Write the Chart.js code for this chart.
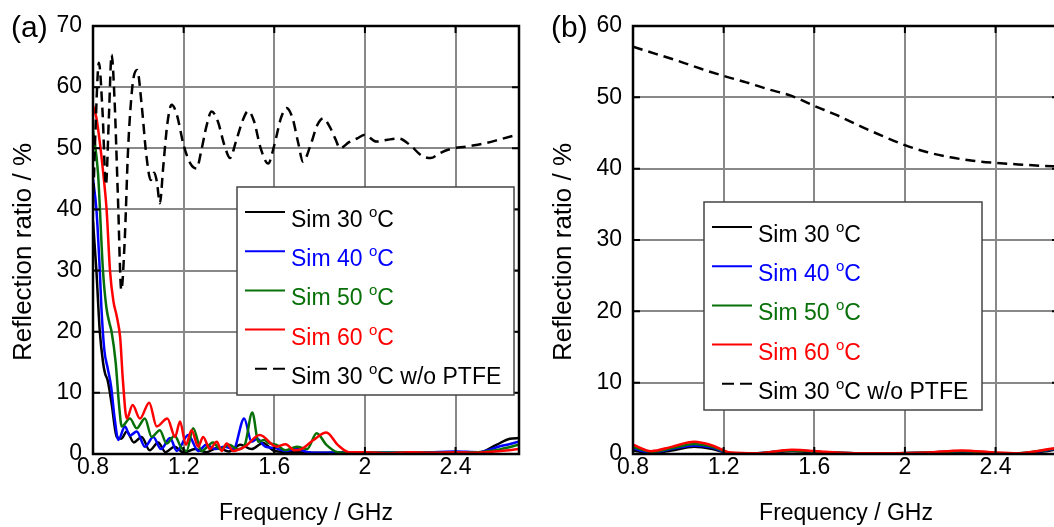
<!DOCTYPE html>
<html>
<head>
<meta charset="utf-8">
<script src="https://cdn.jsdelivr.net/npm/chart.js@4/dist/chart.umd.min.js"></script>
<style>
  html, body { margin: 0; padding: 0; background: #fff; overflow: hidden; }
  body { width: 1054px; height: 527px; position: relative; }
  canvas { position: absolute; top: 0; }
  #chartA { left: 0; }
  #chartB { left: 540px; }
</style>
</head>
<body>
<canvas id="chartA" width="540" height="527"></canvas>
<canvas id="chartB" width="540" height="527"></canvas>
<script>
// ---- panel (a): frequency (GHz) / reflection ratio (%) ----
const fA_dash = [0.8, 0.81, 0.826, 0.842, 0.857, 0.87, 0.882, 0.895, 0.91, 0.925, 0.94, 0.955, 0.975, 0.995, 1.015, 1.035, 1.055, 1.07, 1.082, 1.095, 1.11, 1.128, 1.147, 1.17, 1.2, 1.23, 1.257, 1.28, 1.3, 1.323, 1.35, 1.38, 1.405, 1.43, 1.46, 1.485, 1.51, 1.54, 1.573, 1.6, 1.63, 1.654, 1.68, 1.705, 1.727, 1.76, 1.79, 1.816, 1.845, 1.87, 1.89, 1.93, 1.965, 2.0, 2.05, 2.1, 2.15, 2.2, 2.25, 2.29, 2.33, 2.37, 2.45, 2.54, 2.6, 2.68];
const rA_dash = [40, 52, 64, 56, 44, 55, 65.3, 58, 42, 26.8, 35, 50, 60.5, 62.8, 57, 49, 44.8, 46, 44.5, 41, 47, 54, 57.1, 55.5, 50.5, 47.5, 46.7, 50, 53.5, 56, 54.5, 50.5, 48.4, 51, 54.5, 56.1, 54.5, 50, 47.5, 50.5, 55, 56.6, 55, 51, 47.8, 50.5, 53.8, 54.9, 53.5, 51.5, 50, 51, 51.6, 52.2, 51.1, 51.4, 51.6, 50.5, 48.8, 48.4, 49.2, 49.8, 50.3, 50.9, 51.5, 52.3];

const fA_60 = [0.8, 0.815, 0.83, 0.845, 0.86, 0.875, 0.89, 0.905, 0.92, 0.932, 0.949, 0.975, 1.007, 1.048, 1.081, 1.128, 1.162, 1.184, 1.21, 1.235, 1.264, 1.286, 1.316, 1.346, 1.368, 1.39, 1.419, 1.47, 1.536, 1.61, 1.65, 1.69, 1.72, 1.77, 1.83, 1.88, 1.93, 2.0, 2.1, 2.2, 2.3, 2.4, 2.5, 2.6, 2.68];
const rA_60 = [57, 55, 51, 46, 40, 30, 25, 22.5, 19, 12, 5.8, 8.0, 5.8, 8.4, 4.5, 5.8, 2.8, 5.3, 1.5, 3.9, 1.2, 2.8, 0.8, 2.0, 0.5, 1.7, 0.5, 1.2, 3.1, 1.2, 1.6, 0.6, 0.8, 2.2, 3.5, 1.5, 0.3, 0.3, 0.1, 0.3, 0.2, 0.3, 0.2, 0.5, 0.8];

const fA_50 = [0.8, 0.822, 0.844, 0.859, 0.872, 0.882, 0.9, 0.915, 0.927, 0.963, 0.993, 1.029, 1.059, 1.095, 1.125, 1.16, 1.19, 1.213, 1.242, 1.279, 1.33, 1.36, 1.4, 1.44, 1.47, 1.503, 1.53, 1.555, 1.575, 1.61, 1.65, 1.7, 1.745, 1.787, 1.83, 1.88, 1.95, 2.1, 2.3, 2.5, 2.6, 2.68];
const rA_50 = [53, 46, 30, 24, 21.5, 20, 15, 8, 4.5, 5.8, 4.2, 5.8, 2.8, 3.9, 1.7, 3.0, 1.0, 0.5, 4.2, 0.5, 1.9, 0.8, 1.5, 0.8, 1.5, 6.8, 2.0, 2.3, 1.8, 1.5, 0.6, 1.2, 0.8, 3.4, 1.5, 0.3, 0.2, 0.2, 0.2, 0.3, 0.8, 1.5];

const fA_40 = [0.8, 0.815, 0.83, 0.837, 0.85, 0.865, 0.88, 0.895, 0.912, 0.941, 0.963, 0.993, 1.029, 1.066, 1.1, 1.14, 1.17, 1.22, 1.265, 1.3, 1.34, 1.38, 1.42, 1.467, 1.5, 1.525, 1.56, 1.6, 1.65, 1.7, 1.75, 1.8, 1.9, 2.0, 2.2, 2.4, 2.5, 2.6, 2.68];
const rA_40 = [45, 40, 30, 24, 17, 14, 11, 6, 2.3, 4.5, 3.0, 3.7, 1.2, 2.8, 0.8, 2.6, 0.5, 3.1, 0.5, 1.5, 0.8, 1.2, 0.8, 5.8, 2.0, 2.5, 1.2, 1.0, 0.5, 0.8, 0.3, 0.2, 0.3, 0.2, 0.2, 0.4, 0.3, 1.3, 2.0];

const fA_30 = [0.8, 0.815, 0.83, 0.845, 0.853, 0.865, 0.882, 0.905, 0.925, 0.949, 0.98, 1.015, 1.05, 1.088, 1.12, 1.16, 1.2, 1.25, 1.3, 1.35, 1.4, 1.45, 1.5, 1.55, 1.6, 1.7, 1.8, 2.0, 2.2, 2.4, 2.5, 2.58, 2.64, 2.68];
const rA_30 = [38, 30, 20, 14.8, 13.2, 12, 8.3, 2.8, 2.5, 3.7, 1.9, 2.8, 0.6, 1.9, 0.3, 1.2, 0.2, 0.8, 0.3, 1.0, 0.4, 1.5, 0.8, 1.8, 0.5, 0.3, 0.2, 0.2, 0.2, 0.3, 0.2, 1.5, 2.5, 2.6];

// ---- panel (b) ----
const fB_dash = [0.8, 0.9, 1.0, 1.1, 1.2, 1.3, 1.4, 1.5, 1.6, 1.7, 1.8, 1.9, 2.0, 2.1, 2.2, 2.3, 2.4, 2.5, 2.6, 2.68];
const rB_dash = [57.1, 56.1, 55.1, 54.0, 53.0, 52.1, 51.1, 50.2, 48.8, 47.5, 46.0, 44.6, 43.3, 42.3, 41.6, 41.1, 40.8, 40.6, 40.4, 40.3];

const fB = [0.8, 0.88, 0.97, 1.07, 1.15, 1.23, 1.35, 1.5, 1.65, 1.8, 1.95, 2.1, 2.25, 2.4, 2.5, 2.6, 2.68];
const rB_60 = [1.3, 0.4, 1.0, 1.7, 1.2, 0.2, 0.1, 0.6, 0.3, 0.1, 0.1, 0.2, 0.5, 0.2, 0.1, 0.5, 0.9];
const rB_50 = [1.0, 0.3, 0.8, 1.4, 1.0, 0.15, 0.1, 0.5, 0.25, 0.1, 0.1, 0.2, 0.4, 0.15, 0.1, 0.45, 0.85];
const rB_40 = [0.8, 0.2, 0.7, 1.2, 0.9, 0.1, 0.1, 0.5, 0.25, 0.1, 0.1, 0.2, 0.4, 0.1, 0.1, 0.4, 0.8];
const rB_30 = [0.5, 0.1, 0.5, 1.0, 0.7, 0.1, 0.05, 0.4, 0.2, 0.05, 0.05, 0.15, 0.3, 0.1, 0.05, 0.3, 0.7];

const labels = ['Sim 30 °C', 'Sim 40 °C', 'Sim 50 °C', 'Sim 60 °C', 'Sim 30 °C w/o PTFE'];
const colors = ['#000000', '#0000ff', '#087008', '#ff0000', '#000000'];
const yTitle = 'Reflection ratio / %';

const FONT = "'Liberation Sans', Arial, sans-serif";
Chart.defaults.font.family = FONT;
Chart.defaults.color = '#000';

const pts = (xs, ys) => xs.map((x, i) => ({ x: x, y: ys[i] }));

// black frame on all four sides + inward tick marks
const framePlugin = {
  id: 'frame',
  afterDatasetsDraw(chart) {
    const { ctx, chartArea: a, scales: { x, y } } = chart;
    ctx.save();
    ctx.strokeStyle = '#000';
    ctx.lineWidth = 2;
    ctx.beginPath();
    x.ticks.forEach(t => {
      const px = x.getPixelForValue(t.value);
      ctx.moveTo(px, a.bottom); ctx.lineTo(px, a.bottom - 7);
      ctx.moveTo(px, a.top); ctx.lineTo(px, a.top + 7);
    });
    y.ticks.forEach(t => {
      const py = y.getPixelForValue(t.value);
      ctx.moveTo(a.left, py); ctx.lineTo(a.left + 7, py);
      ctx.moveTo(a.right, py); ctx.lineTo(a.right - 7, py);
    });
    ctx.stroke();
    ctx.lineWidth = 2.5;
    ctx.strokeRect(a.left, a.top, a.width, a.height);
    ctx.restore();
  }
};

// legend box with superscript "o", the y title and the panel letter
const boxLegend = {
  id: 'boxLegend',
  afterDraw(chart, args, opts) {
    const ctx = chart.ctx;
    const L = opts.left, T = opts.top;
    ctx.save();
    ctx.fillStyle = '#fff';
    ctx.fillRect(L, T, opts.width, opts.height);
    ctx.strokeStyle = '#444';
    ctx.lineWidth = 1.5;
    ctx.strokeRect(L, T, opts.width, opts.height);

    chart.data.datasets.forEach((ds, i) => {
      const ly = T + 25 + 39.2 * i;
      const dashed = ds.borderDash && ds.borderDash.length;
      ctx.strokeStyle = ds.borderColor;
      ctx.lineWidth = 2;
      ctx.setLineDash(dashed ? [12, 6] : []);
      ctx.beginPath();
      ctx.moveTo(L + (dashed ? 18 : 8), ly);
      ctx.lineTo(L + 48, ly);
      ctx.stroke();
      ctx.setLineDash([]);

      const parts = ds.label.split('°');
      const base = ly + 15;
      let tx = L + 54;
      ctx.fillStyle = ds.borderColor;
      ctx.textBaseline = 'alphabetic';
      ctx.textAlign = 'left';
      ctx.font = '23px ' + FONT;
      ctx.fillText(parts[0], tx, base);
      tx += ctx.measureText(parts[0]).width;
      ctx.font = '15px ' + FONT;
      ctx.fillText('o', tx, base - 10);
      tx += ctx.measureText('o').width;
      ctx.font = '23px ' + FONT;
      ctx.fillText(parts[1], tx, base);
    });

    ctx.fillStyle = '#000';
    ctx.font = '30px ' + FONT;
    ctx.textBaseline = 'middle';
    ctx.fillText(opts.panel, 11, 29);

    // y axis title
    ctx.font = '26px ' + FONT;
    ctx.textAlign = 'center';
    ctx.translate(24, 252);
    ctx.rotate(-Math.PI / 2);
    ctx.fillText(yTitle, 0, 0);
    ctx.restore();
  }
};

function makeChart(id, series, ymax, legendPos, panel) {
  const datasets = series.map((s, i) => ({
    label: labels[i],
    data: s,
    borderColor: colors[i],
    borderWidth: 2.5,
    borderDash: i === 4 ? [10, 6] : [],
    pointRadius: 0,
    cubicInterpolationMode: 'monotone',
    fill: false,
    order: 5 - i
  }));
  return new Chart(document.getElementById(id), {
    type: 'line',
    data: { datasets: datasets },
    options: {
      responsive: false,
      animation: false,
      layout: { padding: { top: 26, right: 21, left: 0, bottom: 0 } },
      plugins: {
        legend: { display: false },
        tooltip: { enabled: false },
        boxLegend: Object.assign({ panel: panel }, legendPos)
      },
      scales: {
        x: {
          type: 'linear',
          min: 0.8,
          max: 2.68,
          afterFit: s => { s.height = 73; },
          grid: { color: '#888', lineWidth: 2, drawTicks: false },
          border: { display: false },
          ticks: {
            stepSize: 0.4,
            includeBounds: false,
            padding: 0,
            font: { size: 23 },
            callback: v => String(Number(v.toFixed(2)))
          },
          title: { display: true, text: 'Frequency / GHz', font: { size: 23 }, padding: { top: 0, bottom: 0 } }
        },
        y: {
          min: 0,
          max: ymax,
          afterFit: s => { s.width = 93; },
          grid: { color: '#888', lineWidth: 2, drawTicks: false },
          border: { display: false },
          ticks: { stepSize: 10, padding: 11, font: { size: 23 } },
          title: { display: false, text: yTitle }
        }
      }
    },
    plugins: [framePlugin, boxLegend]
  });
}

makeChart('chartA', [
  pts(fA_30, rA_30), pts(fA_40, rA_40), pts(fA_50, rA_50), pts(fA_60, rA_60), pts(fA_dash, rA_dash)
], 70, { left: 237, top: 187, width: 277, height: 208 }, '(a)');

makeChart('chartB', [
  pts(fB, rB_30), pts(fB, rB_40), pts(fB, rB_50), pts(fB, rB_60), pts(fB_dash, rB_dash)
], 60, { left: 164, top: 202, width: 278, height: 208 }, '(b)');
</script>
</body>
</html>
